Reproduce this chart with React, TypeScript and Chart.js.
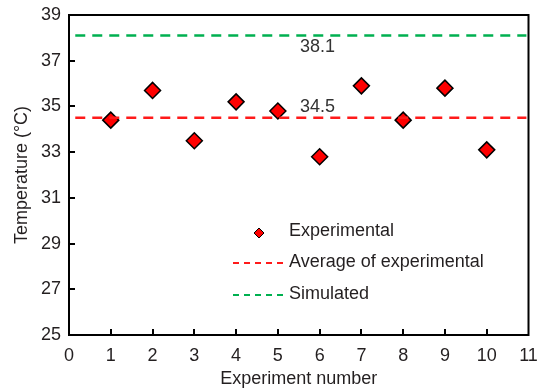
import React, { useEffect, useRef } from 'react';
import { Chart, registerables } from 'chart.js';

Chart.register(...registerables);

const experimentNumbers = [1, 2, 3, 4, 5, 6, 7, 8, 9, 10];
const experimentalTemps = [34.4, 35.7, 33.5, 35.2, 34.8, 32.8, 35.9, 34.4, 35.8, 33.1];
const averageTemp = 34.5;
const simulatedTemp = 38.1;
const lineSpanX = [0.15, 10.95];
const xTickValues = [0, 1, 2, 3, 4, 5, 6, 7, 8, 9, 10, 11];
const yTickValues = [25, 27, 29, 31, 33, 35, 37, 39];
const seriesLabels = ['Experimental', 'Average of experimental', 'Simulated'];
const annotationX = 5.95;

const FONT = '"Liberation Sans", Arial, sans-serif';
const TEXT = '#231f20';
const RED = '#ff1a1a';
const GREEN = '#00b050';

const zeroPad = (s: any) => {
  s.paddingLeft = 0;
  s.paddingRight = 0;
  s.paddingTop = 0;
  s.paddingBottom = 0;
};

const decorPlugin = {
  id: 'decor',
  afterDatasetsDraw(chart: any) {
    const { ctx, chartArea: a, scales } = chart;
    const xs = scales.x;
    const ys = scales.y;
    ctx.save();
    // frame
    ctx.strokeStyle = '#000';
    ctx.lineWidth = 2;
    ctx.strokeRect(a.left, a.top, a.right - a.left, a.bottom - a.top);
    // inward ticks
    ctx.beginPath();
    xTickValues.forEach((v) => {
      const px = Math.round(xs.getPixelForValue(v));
      if (v === xTickValues[0] || v === xTickValues[xTickValues.length - 1]) return;
      ctx.moveTo(px, a.bottom);
      ctx.lineTo(px, a.bottom - 6);
    });
    yTickValues.forEach((v) => {
      const py = Math.round(ys.getPixelForValue(v));
      if (v === yTickValues[0] || v === yTickValues[yTickValues.length - 1]) return;
      ctx.moveTo(a.left, py);
      ctx.lineTo(a.left + 6, py);
    });
    ctx.stroke();

    // annotations
    ctx.fillStyle = '#333';
    ctx.font = `18px ${FONT}`;
    ctx.textAlign = 'center';
    ctx.textBaseline = 'middle';
    const ax = xs.getPixelForValue(annotationX);
    ctx.fillText(averageTemp.toFixed(1), ax, ys.getPixelForValue(averageTemp) - 11);
    ctx.fillText(simulatedTemp.toFixed(1), ax, ys.getPixelForValue(simulatedTemp) + 11);

    // legend
    const lx1 = 233;
    const lx2 = 283;
    const tx = 289;
    const rows = [231, 262, 294];
    ctx.font = `18px ${FONT}`;
    ctx.textAlign = 'left';
    const mx = (lx1 + lx2) / 2 + 1;
    const my = rows[0] + 2;
    const r = 5;
    ctx.beginPath();
    ctx.moveTo(mx, my - r);
    ctx.lineTo(mx + r, my);
    ctx.lineTo(mx, my + r);
    ctx.lineTo(mx - r, my);
    ctx.closePath();
    ctx.fillStyle = '#ff0000';
    ctx.fill();
    ctx.lineWidth = 1;
    ctx.strokeStyle = '#000';
    ctx.stroke();
    ctx.fillStyle = TEXT;
    ctx.fillText(seriesLabels[0], tx, rows[0]);
    [[RED, rows[1], seriesLabels[1]], [GREEN, rows[2], seriesLabels[2]]].forEach(([c, y, t]: any) => {
      ctx.beginPath();
      ctx.setLineDash([6, 5]);
      ctx.strokeStyle = c;
      ctx.lineWidth = 2;
      ctx.moveTo(lx1, y + 1);
      ctx.lineTo(lx2, y + 1);
      ctx.stroke();
      ctx.setLineDash([]);
      ctx.fillStyle = TEXT;
      ctx.fillText(t, tx, y);
    });
    ctx.restore();
  },
};

export default function App() {
  const canvasRef = useRef<HTMLCanvasElement | null>(null);

  useEffect(() => {
    const canvas = canvasRef.current;
    if (!canvas) return;
    const chart = new Chart(canvas, {
      type: 'scatter',
      data: {
        datasets: [
          {
            label: seriesLabels[1],
            type: 'line',
            data: lineSpanX.map((x) => ({ x, y: averageTemp })),
            borderColor: RED,
            borderWidth: 2.5,
            borderDash: [10, 7],
            pointRadius: 0,
            fill: false,
          },
          {
            label: seriesLabels[2],
            type: 'line',
            data: lineSpanX.map((x) => ({ x, y: simulatedTemp })),
            borderColor: GREEN,
            borderWidth: 2.5,
            borderDash: [10, 7],
            pointRadius: 0,
            fill: false,
          },
          {
            label: seriesLabels[0],
            data: experimentNumbers.map((x, i) => ({ x, y: experimentalTemps[i] })),
            pointStyle: 'rectRot',
            pointRadius: 8,
            pointHoverRadius: 8,
            backgroundColor: '#ff0000',
            borderColor: '#000',
            borderWidth: 1.5,
          },
        ],
      },
      options: {
        responsive: false,
        animation: false,
        events: [],
        layout: { padding: { top: 15, right: 7, left: 0, bottom: 0 } },
        plugins: {
          legend: { display: false },
          tooltip: { enabled: false },
        },
        scales: {
          x: {
            type: 'linear',
            min: 0,
            max: 11,
            afterBuildTicks: (s: any) => {
              s.ticks = xTickValues.map((v) => ({ value: v }));
            },
            afterFit: (s: any) => {
              s.height = 55;
              zeroPad(s);
            },
            grid: { display: false, drawTicks: false },
            border: { display: false },
            ticks: {
              padding: 10,
              color: TEXT,
              font: { family: FONT, size: 18 },
              maxRotation: 0,
              autoSkip: false,
            },
            title: {
              display: true,
              text: 'Experiment number',
              color: TEXT,
              font: { family: FONT, size: 18 },
              padding: { top: 0, bottom: 0 },
            },
          },
          y: {
            type: 'linear',
            min: 25,
            max: 39,
            afterBuildTicks: (s: any) => {
              s.ticks = yTickValues.map((v) => ({ value: v }));
            },
            afterFit: (s: any) => {
              s.width = 69;
              zeroPad(s);
            },
            grid: { display: false, drawTicks: false },
            border: { display: false },
            ticks: {
              padding: 8,
              color: TEXT,
              font: { family: FONT, size: 18 },
              autoSkip: false,
            },
            title: {
              display: true,
              text: 'Temperature (°C)',
              color: TEXT,
              font: { family: FONT, size: 18 },
              padding: { top: 11, bottom: 0 },
            },
          },
        },
      },
      plugins: [decorPlugin],
    });
    return () => chart.destroy();
  }, []);

  return (
    <div style={{ position: 'fixed', left: 0, top: 0, width: 538, height: 390, background: '#fff' }}>
      <canvas ref={canvasRef} width={538} height={390} style={{ width: 538, height: 390, display: 'block' }} />
    </div>
  );
}
